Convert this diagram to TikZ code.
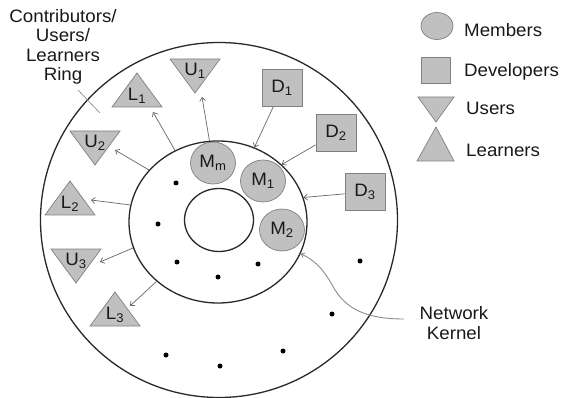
\documentclass[tikz,border=0pt]{standalone}
\usepackage{fontspec}
\setmainfont{Liberation Sans}[FakeStretch=1.04]
\usetikzlibrary{positioning,calc,arrows,arrows.meta,shapes.geometric}
\definecolor{shapefill}{RGB}{192,192,192}
\definecolor{shapeline}{RGB}{128,128,128}
\definecolor{ringline}{RGB}{40,40,40}
\tikzstyle{edge} = [-{Straight Barb[length=3.5pt,width=6pt]}, draw=black!60, line width=0.7pt]
\tikzstyle{tri} = [fill=shapefill, draw=shapeline, line width=0.7pt]
% user: name, x, top edge, label
\newcommand{\usertri}[4]{
	\draw[tri] (#2-25,#3) -- (#2+25,#3) -- (#2,#3+34) -- cycle;
	\node (#1) at (#2,#3+12) {#4};
}
% learner: name, x, base, label
\newcommand{\learnertri}[4]{
	\draw[tri] (#2-25,#3) -- (#2+25,#3) -- (#2,#3-34) -- cycle;
	\node (#1) at (#2,#3-11) {#4};
}

\begin{document}
\begin{tikzpicture}[x=1pt, y=-1pt]
\tikzstyle{every node}=[align=center, inner sep=1pt, font=\fontsize{18}{20}\selectfont, text=black!90]
\tikzstyle{ring}=[ellipse, draw=ringline, line width=1.3pt, inner sep=0pt]
\tikzstyle{member}=[ellipse, fill=shapefill, draw=shapeline, line width=0.7pt, minimum width=45pt, minimum height=42pt]
\tikzstyle{dev}=[rectangle, fill=shapefill, draw=shapeline, line width=0.7pt, minimum width=40pt, minimum height=37pt]
	\useasboundingbox (0,0) rectangle (562,398);

	\node[ring, minimum width=357pt, minimum height=355pt] (outer) at (219,220) {};
	\node[ring, minimum width=178pt, minimum height=162pt] (mid) at (218,222) {};
	\node[ring, minimum width=69pt, minimum height=63pt] (kern) at (219,220) {};

	\node[member] (mm) at (213,163) {M\textsubscript{m}};
	\node[member] (m1) at (263,181) {M\textsubscript{1}};
	\node[member] (m2) at (282,230) {M\textsubscript{2}};

	\node[dev] (d1) at (282,88) {D\textsubscript{1}};
	\node[dev] (d2) at (336,133) {D\textsubscript{2}};
	\node[dev] (d3) at (365,192) {D\textsubscript{3}};

	\usertri{u1}{195}{59}{U\textsubscript{1}}
	\learnertri{l1}{137}{107}{L\textsubscript{1}}
	\usertri{u2}{95}{131}{U\textsubscript{2}}
	\learnertri{l2}{70}{215}{L\textsubscript{2}}
	\usertri{u3}{76}{249}{U\textsubscript{3}}
	\learnertri{l3}{115}{326}{L\textsubscript{3}}

	\coordinate (u1end) at (202,97);
	\coordinate (l1end) at (153,112);
	\coordinate (u2end) at (115,150);
	\coordinate (l2end) at (91,200);
	\coordinate (u3end) at (100,262);
	\coordinate (l3end) at (130,306);

	\draw[edge] (mid.96) -- (u1end);
	\draw[edge] (mid.121) -- (l1end);
	\draw[edge] (mid.143) -- (u2end);
	\draw[edge] (mid.169) -- (l2end);
	\draw[edge] (mid.197) -- (u3end);
	\draw[edge] (mid.224) -- (l3end);
	\draw[edge] (d1) -- (mid.64);
	\draw[edge] (d2) -- (mid.42);
	\draw[edge] (d3) -- (mid.16);

	\foreach \p in {(176,183),(158,224),(177,262),(218,277),(258,264),(360,261),(332,314),(283,351),(220,366),(166,355)}
		\fill[black] \p circle (2.5pt);

	\node[font=\fontsize{18}{19.5}\selectfont] (ringlbl) at (63,47) {Contributors/\\Users/\\Learners\\Ring};
	\coordinate (rt1) at (78,90);
	\coordinate (rt2) at (100,113);
	\draw[black!50, line width=0.6pt] (rt1) -- (rt2);

	\node (kernel) at (454,323) {Network\\Kernel};
	\coordinate (kstart) at (404,319);
	\draw[-{Straight Barb[length=3pt,width=5pt]}, black!45, line width=0.9pt] (kstart) .. controls (360,319) and (345,305) .. (335,290) .. controls (325,272) and (318,262) .. (mid.339);

	% legend
	\node[ellipse, fill=shapefill, draw=shapeline, line width=0.7pt, minimum width=32pt, minimum height=27pt, inner sep=0pt] (lgm) at (437,26) {};
	\node[anchor=west] (lgmtxt) at (463,30) {Members};
	\node[rectangle, fill=shapefill, draw=shapeline, line width=0.7pt, minimum width=29pt, minimum height=26pt] (lgd) at (436,70) {};
	\node[anchor=west] (lgdtxt) at (463,72) {Developers};
	\draw[tri] (418,97) -- (454,97) -- (436,122) -- cycle;
	\node[anchor=west] (lgutxt) at (465,108) {Users};
	\draw[tri] (417,161) -- (454,161) -- (436,127) -- cycle;
	\node[anchor=west] (lgltxt) at (465,150) {Learners};
\end{tikzpicture}
\end{document}
